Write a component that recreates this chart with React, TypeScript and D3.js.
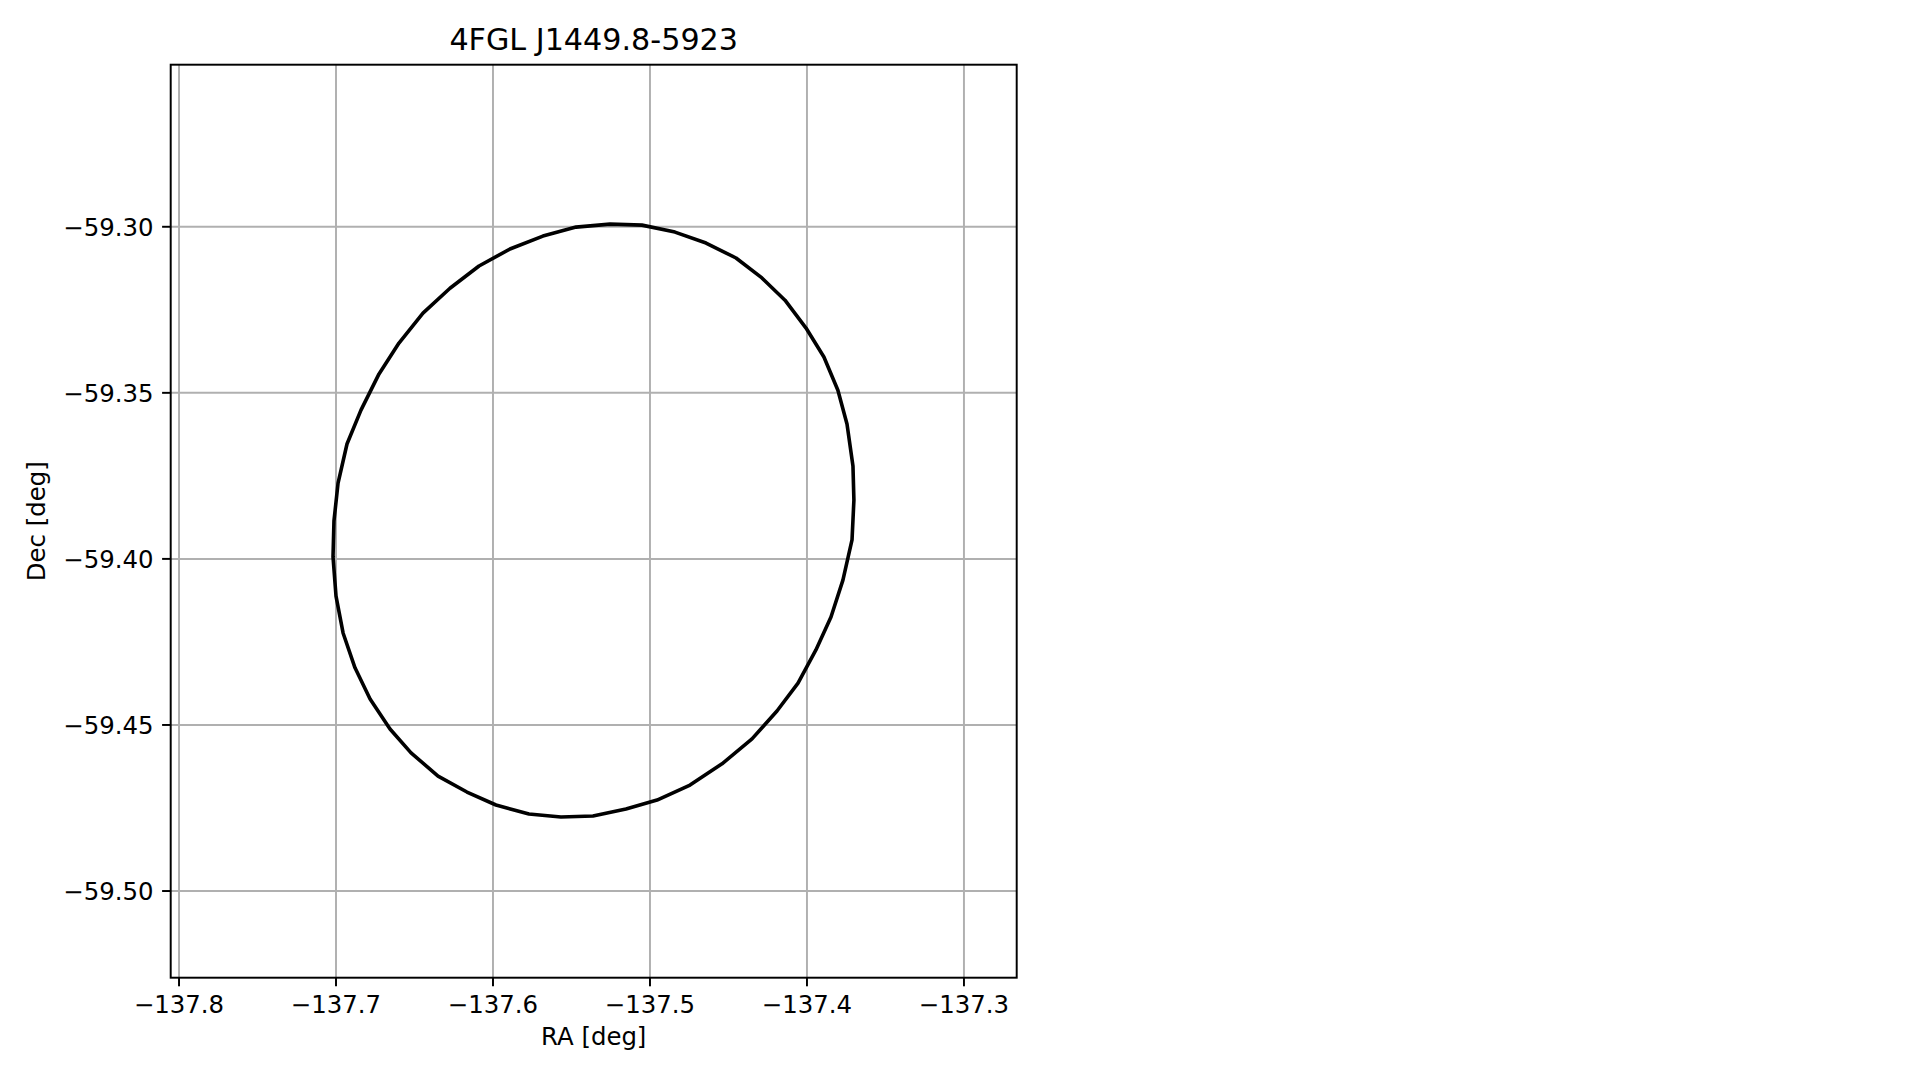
import React, { useEffect, useRef } from 'react'
import { select, scaleLinear, line, curveLinearClosed } from 'd3'

const title = '4FGL J1449.8-5923'
const xLabel = 'RA [deg]'
const yLabel = 'Dec [deg]'

// axis limits and ticks
const raLimits = [-137.8053, -137.2664]
const decLimits = [-59.5261, -59.2512]
const raTicks = [-137.8, -137.7, -137.6, -137.5, -137.4, -137.3]
const decTicks = [-59.30, -59.35, -59.40, -59.45, -59.50]

// error ellipse vertices
const ra = [
  -137.5255, -137.5051, -137.4841, -137.4643, -137.4452, -137.4287, -137.4140,
  -137.4006, -137.3892, -137.3803, -137.3745, -137.3707, -137.3701, -137.3713,
  -137.3771, -137.3847, -137.3943, -137.4057, -137.4191, -137.4350, -137.4541,
  -137.4745, -137.4955, -137.5153, -137.5363, -137.5567, -137.5771, -137.5981,
  -137.6166, -137.6350, -137.6522, -137.6656, -137.6783, -137.6879, -137.6955,
  -137.7000, -137.7019, -137.7013, -137.6987, -137.6930, -137.6841, -137.6726,
  -137.6599, -137.6446, -137.6274, -137.6089, -137.5892, -137.5682, -137.5471,
]
const dec = [
  -59.2992, -59.2995, -59.3016, -59.3049, -59.3094, -59.3154, -59.3221,
  -59.3305, -59.3392, -59.3492, -59.3594, -59.3720, -59.3823, -59.3943,
  -59.4064, -59.4175, -59.4274, -59.4374, -59.4458, -59.4542, -59.4617,
  -59.4681, -59.4726, -59.4753, -59.4774, -59.4777, -59.4768, -59.4741,
  -59.4702, -59.4654, -59.4584, -59.4512, -59.4422, -59.4328, -59.4223,
  -59.4112, -59.3994, -59.3886, -59.3772, -59.3654, -59.3552, -59.3443,
  -59.3350, -59.3260, -59.3185, -59.3118, -59.3067, -59.3028, -59.3001,
]

const W = 1919
const H = 1080
const box = { left: 170.7, right: 1016.7, top: 64.7, bottom: 977.7 }
const font = 'DejaVu Sans, sans-serif'
const fmt = (v: number, d: number) => v.toFixed(d).replace('-', '\u2212')

const App = () => {
  const svgRef = useRef<SVGSVGElement>(null)

  useEffect(() => {
    const svg = select(svgRef.current)
    svg.selectAll('*').remove()

    const x = scaleLinear().domain(raLimits).range([box.left, box.right])
    const y = scaleLinear().domain(decLimits).range([box.bottom, box.top])

    // grid
    const grid = svg.append('g').attr('stroke', '#b0b0b0').attr('stroke-width', 1.96)
    grid.selectAll('.gx').data(raTicks).join('line')
      .attr('class', 'gx')
      .attr('x1', d => x(d)).attr('x2', d => x(d))
      .attr('y1', box.top).attr('y2', box.bottom)
    grid.selectAll('.gy').data(decTicks).join('line')
      .attr('class', 'gy')
      .attr('y1', d => y(d)).attr('y2', d => y(d))
      .attr('x1', box.left).attr('x2', box.right)

    // ellipse
    const pts = ra.map((r, i) => [r, dec[i]] as [number, number])
    const path = line<[number, number]>()
      .x(d => x(d[0]))
      .y(d => y(d[1]))
      .curve(curveLinearClosed)
    svg.append('path')
      .attr('d', path(pts))
      .attr('fill', 'none')
      .attr('stroke', '#000')
      .attr('stroke-width', 3.6)
      .attr('stroke-linejoin', 'round')

    // spines
    svg.append('rect')
      .attr('x', box.left).attr('y', box.top)
      .attr('width', box.right - box.left).attr('height', box.bottom - box.top)
      .attr('fill', 'none').attr('stroke', '#000').attr('stroke-width', 1.96)

    // x ticks
    const xt = svg.append('g')
    xt.selectAll('line').data(raTicks).join('line')
      .attr('x1', d => x(d)).attr('x2', d => x(d))
      .attr('y1', box.bottom).attr('y2', box.bottom + 8.6)
      .attr('stroke', '#000').attr('stroke-width', 1.96)
    xt.selectAll('text').data(raTicks).join('text')
      .attr('x', d => x(d)).attr('y', 1013)
      .attr('text-anchor', 'middle')
      .attr('font-family', font).attr('font-size', 24.4)
      .text(d => fmt(d, 1))

    // y ticks
    const yt = svg.append('g')
    yt.selectAll('line').data(decTicks).join('line')
      .attr('y1', d => y(d)).attr('y2', d => y(d))
      .attr('x1', box.left).attr('x2', box.left - 8.6)
      .attr('stroke', '#000').attr('stroke-width', 1.96)
    yt.selectAll('text').data(decTicks).join('text')
      .attr('x', box.left - 17.2).attr('y', d => y(d) + 9)
      .attr('text-anchor', 'end')
      .attr('font-family', font).attr('font-size', 24.4)
      .text(d => fmt(d, 2))

    // labels
    const cx = (box.left + box.right) / 2
    const cy = (box.top + box.bottom) / 2
    svg.append('text')
      .attr('x', cx).attr('y', 50)
      .attr('text-anchor', 'middle')
      .attr('font-family', font).attr('font-size', 30.2)
      .text(title)
    svg.append('text')
      .attr('x', cx).attr('y', 1045)
      .attr('text-anchor', 'middle')
      .attr('font-family', font).attr('font-size', 24.4)
      .text(xLabel)
    svg.append('text')
      .attr('transform', `translate(45,${cy}) rotate(-90)`)
      .attr('text-anchor', 'middle')
      .attr('font-family', font).attr('font-size', 24.4)
      .text(yLabel)
  }, [])

  return (
    <svg
      ref={svgRef}
      width={W}
      height={H}
      style={{ position: 'absolute', left: 0, top: 0, background: '#fff' }}
    />
  )
}

export default App
